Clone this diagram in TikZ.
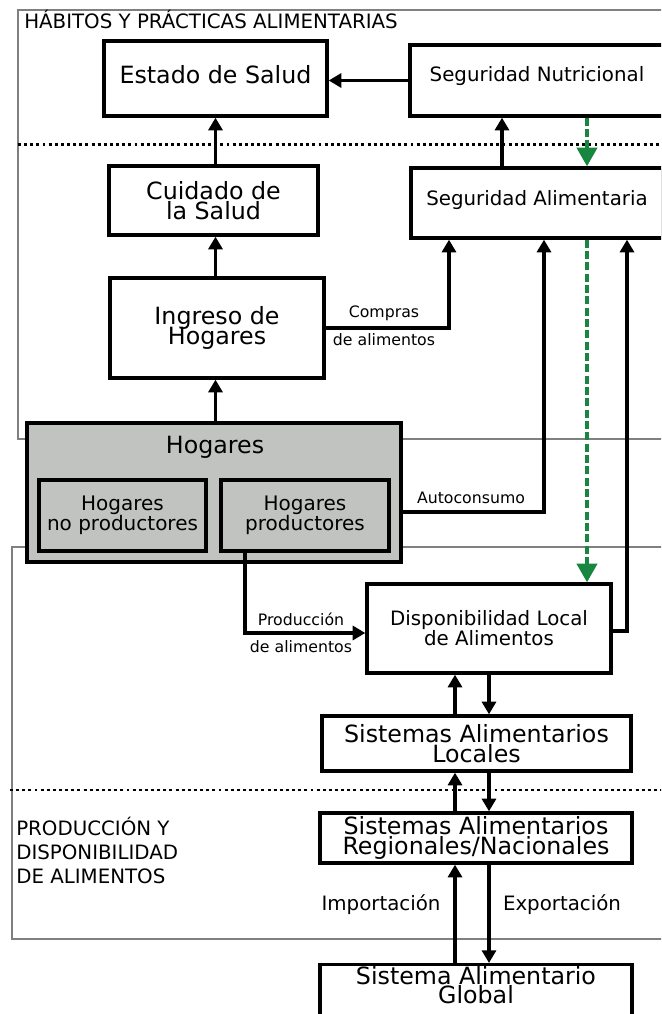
\documentclass[tikz,border=0pt]{standalone}
\usepackage{fontspec}
\setmainfont{DejaVu Sans}
\usepackage{tikz}
\usetikzlibrary{arrows.meta, positioning, calc}
\definecolor{foodgreen}{RGB}{24,134,64}
\definecolor{hogargray}{RGB}{193,195,193}
\definecolor{framegray}{RGB}{128,128,128}
\lineskiplimit=-30pt\relax
\newcommand{\bigtxt}{\fontsize{17.8pt}{14.6pt}\selectfont\lineskiplimit=-30pt\relax}
\newcommand{\midtxt}{\fontsize{14.85pt}{15pt}\selectfont\lineskiplimit=-30pt\relax}
\newcommand{\subtxt}{\fontsize{15pt}{15pt}\selectfont\lineskiplimit=-30pt\relax}
\newcommand{\smalltxt}{\fontsize{11.8pt}{14pt}\selectfont}
\newcommand{\secttxt}{\fontsize{14.85pt}{18pt}\selectfont}
\tikzset{
  %% ---- boxes ----
  box/.style     = {rectangle, draw=black, line width=2.5pt, fill=white,
                    align=center, inner sep=1pt, font=\bigtxt},
  midbox/.style  = {box, font=\midtxt},
  subbox/.style  = {box, fill=hogargray, font=\subtxt},
  lbl/.style     = {inner sep=0pt, font=\smalltxt},
  sect/.style    = {inner sep=0pt, align=left, font=\secttxt},
  %% ---- lines ----
  frame/.style   = {draw=framegray, line width=2pt},
  sepline/.style = {draw=black, line width=2.2pt, dash pattern=on 2.2pt off 2.4pt},
  arrow/.style   = {-{Triangle[length=9.5pt,width=10.5pt]}, line width=2.3pt},
  greenarrow/.style = {-{Triangle[length=14pt,width=15pt]}, line width=3pt,
                    color=foodgreen, dash pattern=on 6pt off 2.5pt},
}
\begin{document}
\begin{tikzpicture}[x=0.75pt, y=-0.75pt]
  \useasboundingbox (0,0) rectangle (661,1014);
  \clip (0,0) rectangle (661,1014);

  %% frames and separators
  \draw[frame] (700,10) -- (18,10) -- (18,439) -- (700,439);
  \draw[frame] (700,547) -- (12,547) -- (12,939) -- (700,939);
  \draw[sepline] (18,144.5) -- (700,144.5);
  \draw[sepline] (10,790) -- (700,790);

  \node[sect, anchor=base west] (habitos) at (24,28.3)
    {HÁBITOS Y PRÁCTICAS ALIMENTARIAS};
  \node[sect, anchor=base west] (produccion) at (16,883)
    {PRODUCCIÓN Y\\DISPONIBILIDAD\\DE ALIMENTOS};

  %% columns for the connectors
  \coordinate (xnut)   at (502,0);
  \coordinate (xcom)   at (449,0);
  \coordinate (xaut)   at (544,0);
  \coordinate (xgreen) at (587,0);
  \coordinate (xdisp)  at (627,0);
  \coordinate (xprod)  at (245,0);
  \coordinate (xup)    at (455,0);
  \coordinate (xdown)  at (489,0);
  \coordinate (yaut)   at (0,512);
  \coordinate (yprod)  at (0,633);
  \coordinate (ydisp)  at (0,631);

  %% upper block
  \node[box, minimum width=167.25pt, minimum height=56.25pt, text depth=6pt]
    (estado) at (215.5,78.5) {Estado de Salud};
  \node[midbox, minimum width=190.5pt, minimum height=53.25pt, text depth=10.5pt]
    (nutri) at (537,80.5) {Seguridad Nutricional};
  \node[box, minimum width=156.75pt, minimum height=51.75pt]
    (cuidado) at (213.5,200.5) {Cuidado de\\la Salud};
  \node[midbox, minimum width=189pt, minimum height=52.5pt, text depth=8pt]
    (segalim) at (537,203) {Seguridad Alimentaria};
  \node[box, minimum width=160.5pt, minimum height=75pt]
    (ingreso) at (217,328) {Ingreso de\\Hogares};

  %% households
  \node[box, fill=hogargray, minimum width=280.5pt, minimum height=104.25pt]
    (hogares) at (214,492.5) {};
  \node[inner sep=0pt, font=\bigtxt, anchor=base] (hogtit) at (215,453.3) {Hogares};
  \node[subbox, minimum width=125.25pt, minimum height=53.25pt]
    (hognp) at (122.5,515.5) {Hogares\\no productores};
  \node[subbox, minimum width=126pt, minimum height=53.25pt]
    (hogp) at (305,515.5) {Hogares\\productores};

  %% lower block
  \node[midbox, minimum width=183pt, minimum height=66.75pt]
    (disp) at (489,628.5) {Disponibilidad Local\\de Alimentos};
  \node[box, minimum width=231.75pt, minimum height=41.25pt]
    (locales) at (476.5,743.5) {Sistemas Alimentarios\\Locales};
  \node[box, minimum width=234pt, minimum height=37.5pt]
    (regional) at (476,838) {Sistemas Alimentarios\\Regionales/Nacionales};
  \node[box, anchor=north, minimum width=234pt, minimum height=42pt, text depth=16pt]
    (global) at (476,963) {Sistema Alimentario\\Global};

  %% connectors
  \draw[arrow] (nutri.west) -- (nutri.west -| estado.east);
  \draw[arrow] (cuidado.north -| estado.south) -- (estado.south);
  \draw[arrow] (ingreso.north -| estado.south) -- (cuidado.south -| estado.south);
  \draw[arrow] (hogares.north -| estado.south) -- (ingreso.south -| estado.south);
  \draw[arrow] (xnut |- segalim.north) -- (xnut |- nutri.south);
  \draw[arrow] (ingreso.east) -| (xcom |- segalim.south);
  \draw[arrow] (hogares.east |- yaut) -| (xaut |- segalim.south);
  \draw[arrow] (disp.east |- ydisp) -| (xdisp |- segalim.south);
  \draw[arrow] (xprod |- hogp.south) |- (disp.west |- yprod);
  \draw[greenarrow] (xgreen |- nutri.south) -- (xgreen |- segalim.north);
  \draw[greenarrow] (xgreen |- segalim.south) -- (xgreen |- disp.north);
  \foreach \a/\b in {disp/locales, locales/regional, regional/global} {
    \draw[arrow] (xup |- \b.north) -- (xup |- \a.south);
    \draw[arrow] (xdown |- \a.south) -- (xdown |- \b.north);
  }

  %% connector labels
  \node[lbl] (compras1) at (384,313) {Compras};
  \node[lbl] (compras2) at (384,340) {de alimentos};
  \node[lbl] (autocons) at (471,498) {Autoconsumo};
  \node[lbl] (prod1) at (301,619) {Producción};
  \node[lbl] (prod2) at (301,647) {de alimentos};
  \node[inner sep=0pt, font=\midtxt] (import) at (381,905) {Importación};
  \node[inner sep=0pt, font=\midtxt] (export) at (562,905) {Exportación};
\end{tikzpicture}
\end{document}
